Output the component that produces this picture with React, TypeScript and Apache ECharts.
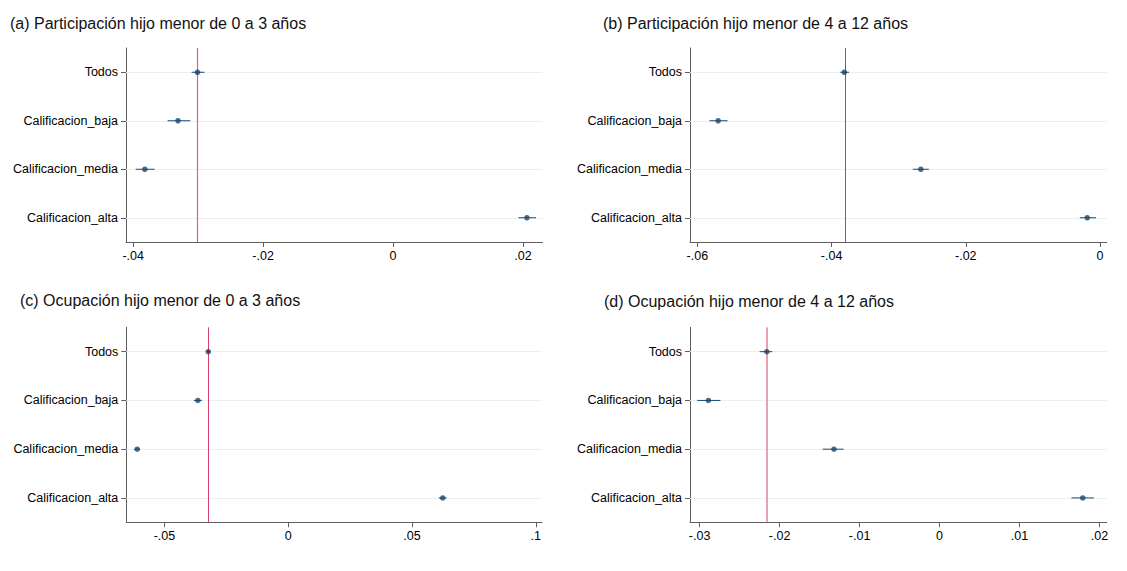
import React, { useEffect, useRef } from "react";
import * as echarts from "echarts";

const categories = ["Todos", "Calificacion_baja", "Calificacion_media", "Calificacion_alta"];

// (a) Participación hijo menor de 0 a 3 años
const aEst = [-0.0301, -0.0331, -0.0382, 0.0206];
const aLo = [-0.031, -0.0347, -0.0396, 0.0193];
const aHi = [-0.029, -0.0312, -0.0367, 0.022];
const aRef = -0.0301;
const aTicks = [-0.04, -0.02, 0, 0.02];

// (b) Participación hijo menor de 4 a 12 años
const bEst = [-0.0381, -0.0569, -0.0267, -0.0019];
const bLo = [-0.0387, -0.0582, -0.0279, -0.003];
const bHi = [-0.0374, -0.0555, -0.0255, -0.0006];
const bRef = -0.038;
const bTicks = [-0.06, -0.04, -0.02, 0];

// (c) Ocupación hijo menor de 0 a 3 años
const cEst = [-0.0323, -0.0365, -0.061, 0.0624];
const cLo = [-0.0331, -0.0381, -0.0622, 0.0608];
const cHi = [-0.0315, -0.0349, -0.0598, 0.064];
const cRef = -0.0322;
const cTicks = [-0.05, 0, 0.05, 0.1];

// (d) Ocupación hijo menor de 4 a 12 años
const dEst = [-0.0216, -0.0289, -0.0132, 0.0179];
const dLo = [-0.0225, -0.0303, -0.0146, 0.0165];
const dHi = [-0.0209, -0.0274, -0.012, 0.0193];
const dRef = -0.0216;
const dTicks = [-0.03, -0.02, -0.01, 0, 0.01, 0.02];

const titles = [
  "(a) Participación hijo menor de 0 a 3 años",
  "(b) Participación hijo menor de 4 a 12 años",
  "(c) Ocupación hijo menor de 0 a 3 años",
  "(d) Ocupación hijo menor de 4 a 12 años",
];

const panels = [
  { est: aEst, lo: aLo, hi: aHi, ref: aRef, ticks: aTicks },
  { est: bEst, lo: bLo, hi: bHi, ref: bRef, ticks: bTicks },
  { est: cEst, lo: cLo, hi: cHi, ref: cRef, ticks: cTicks },
  { est: dEst, lo: dLo, hi: dHi, ref: dRef, ticks: dTicks },
];

// layout / style (not data)
const layout = [
  { left: 126, top: 48, width: 416.5, height: 194, min: -0.0411, max: 0.023, tl: 10, tt: 15 },
  { left: 690, top: 48, width: 416.7, height: 194, min: -0.0611, max: 0.001, tl: 603, tt: 15 },
  { left: 126.3, top: 327.3, width: 415.7, height: 195, min: -0.0654, max: 0.1025, tl: 20, tt: 292 },
  { left: 690, top: 327.3, width: 416.7, height: 195, min: -0.0312, max: 0.0209, tl: 604, tt: 293 },
];
const refStyles = [
  { color: "#e0607e", width: 1.2 },
  { color: "#c8365a", width: 1 },
  { color: "#d8406a", width: 1 },
  { color: "#eaa0b2", width: 2 },
];

const NAVY = "#1a476f";
const AXIS = "#5f5f5f";
const FONT = "'Liberation Sans', Arial, sans-serif";

const fmt = (v: number) => {
  if (v === 0) return "0";
  return String(v).replace("0.", ".");
};

export default function App() {
  const ref = useRef<HTMLDivElement>(null);
  useEffect(() => {
    if (!ref.current) return;
    const chart = echarts.init(ref.current, undefined, { renderer: "svg" });
    const grid: any[] = [];
    const xAxis: any[] = [];
    const yAxis: any[] = [];
    const series: any[] = [];
    const title: any[] = [];
    panels.forEach((p, k) => {
      const L = layout[k];
      grid.push({ left: L.left, top: L.top, width: L.width, height: L.height, containLabel: false });
      title.push({
        text: titles[k],
        left: L.tl,
        top: L.tt,
        padding: 0,
        textStyle: { fontSize: 16, fontWeight: "normal", color: "#111", fontFamily: FONT },
      });
      xAxis.push({
        type: "value",
        gridIndex: k,
        min: L.min,
        max: L.max,
        axisLine: { show: true, onZero: false, lineStyle: { color: AXIS, width: 1 } },
        axisTick: { show: true, length: 5, customValues: p.ticks, lineStyle: { color: AXIS } },
        axisLabel: { customValues: p.ticks, formatter: fmt, fontSize: 12.5, color: "#000", margin: 7, fontFamily: FONT },
        splitLine: { show: false },
      });
      yAxis.push({
        type: "category",
        gridIndex: k,
        data: categories,
        inverse: true,
        boundaryGap: true,
        axisLine: { show: true, onZero: false, lineStyle: { color: AXIS, width: 1 } },
        axisTick: { show: true, alignWithLabel: true, length: 5, lineStyle: { color: AXIS } },
        axisLabel: { fontSize: 12.5, color: "#000", margin: 8, fontFamily: FONT },
        splitLine: { show: false },
      });
      const rs = refStyles[k];
      series.push({
        type: "custom",
        xAxisIndex: k,
        yAxisIndex: k,
        z: 2,
        data: categories.map((c, i) => [p.lo[i], i, p.hi[i]]),
        renderItem: (params: any, api: any) => {
          const a = api.coord([api.value(0), api.value(1)]);
          const b = api.coord([api.value(2), api.value(1)]);
          return {
            type: "line",
            shape: { x1: a[0], y1: a[1], x2: b[0], y2: b[1] },
            style: { stroke: NAVY, lineWidth: 1 },
          };
        },
      });
      series.push({
        type: "scatter",
        xAxisIndex: k,
        yAxisIndex: k,
        z: 3,
        symbol: "circle",
        symbolSize: 5.5,
        itemStyle: { color: NAVY },
        data: categories.map((c, i) => [p.est[i], c]),
        markLine: {
          silent: true,
          z: 1,
          precision: 8,
          symbol: ["none", "none"],
          label: { show: false },
          animation: false,
          data: [
            ...categories.map((c) => ({ yAxis: c, lineStyle: { color: "#eaf0f2", width: 1, type: "solid" } })),
            { xAxis: p.ref, lineStyle: { color: rs.color, width: rs.width, type: "solid" } },
          ],
        },
      });
    });
    chart.setOption({
      animation: false,
      backgroundColor: "#ffffff",
      textStyle: { fontFamily: FONT },
      title,
      grid,
      xAxis,
      yAxis,
      series,
    });
    return () => chart.dispose();
  }, []);
  return (
    <div
      ref={ref}
      style={{ position: "fixed", left: 0, top: 0, width: 1127, height: 571, background: "#fff" }}
    />
  );
}
